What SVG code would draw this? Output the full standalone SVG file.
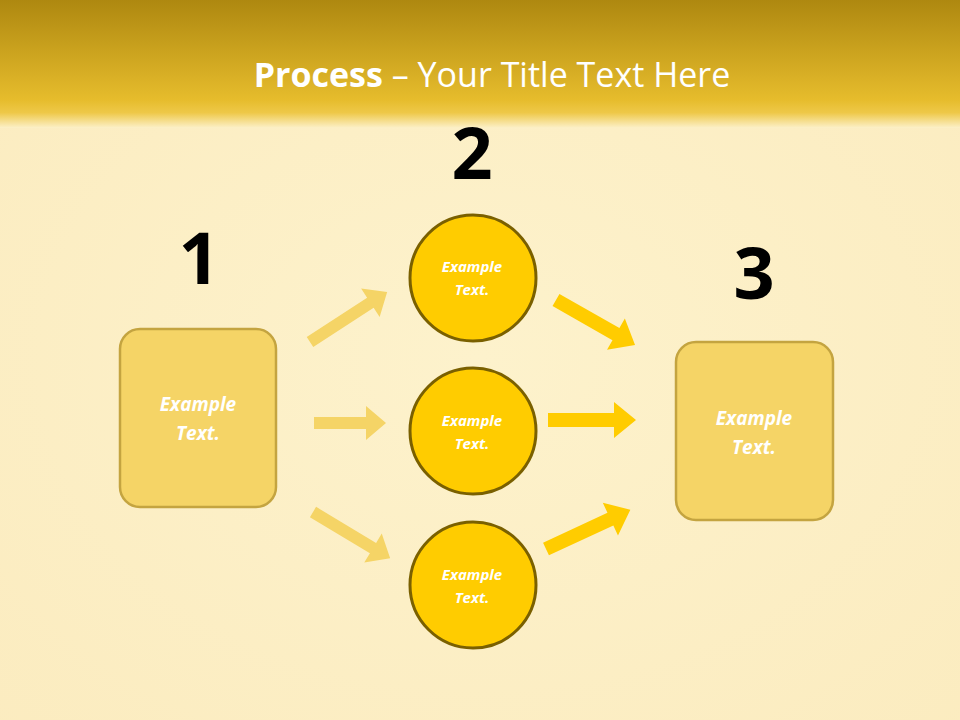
<svg xmlns="http://www.w3.org/2000/svg" width="960" height="720" viewBox="0 0 960 720">
<defs>
<linearGradient id="hdr" x1="0" y1="0" x2="0" y2="1">
<stop offset="0" stop-color="#AE8810"/>
<stop offset="0.78" stop-color="#E6BC2C"/>
<stop offset="0.88" stop-color="#EEC848"/>
<stop offset="1" stop-color="#FCF0C8"/>
</linearGradient>
<radialGradient id="bg" cx="0.5" cy="0.5" r="0.8">
<stop offset="0" stop-color="#FDF2CC"/>
<stop offset="1" stop-color="#FBEBBE"/>
</radialGradient>
<style>
.num{font-family:"Open Sans","Liberation Sans",sans-serif;font-weight:bold;font-size:72px;fill:#000;text-anchor:middle}
.lbl{font-family:"Open Sans","Liberation Sans",sans-serif;font-weight:bold;font-style:italic;fill:#fff;text-anchor:middle}
.c{fill:#FFCC00;stroke:#7A6000;stroke-width:3}
.b{fill:#F5D466;stroke:#C4A440;stroke-width:2.5}
.al{fill:#F5D466}
.ar{fill:#FFCC00}
</style>
</defs>
<rect width="960" height="720" fill="url(#bg)"/>
<rect width="960" height="128" fill="url(#hdr)"/>
<text x="492" y="87" text-anchor="middle" font-family="'Open Sans','Liberation Sans',sans-serif" font-size="34" fill="#fff"><tspan font-weight="bold">Process</tspan> – Your Title Text Here</text>
<g id="connectors">
<path class="al" transform="translate(310,342) rotate(-33)" d="M0,-6 H72 V-17 L92,0 L72,17 V6 H0 Z"/>
<path class="al" transform="translate(314,423)" d="M0,-6 H52 V-17 L72,0 L52,17 V6 H0 Z"/>
<path class="al" transform="translate(313,512) rotate(31)" d="M0,-6 H70 V-17 L90,0 L70,17 V6 H0 Z"/>
<path class="ar" transform="translate(556,300) rotate(29.7)" d="M0,-7 H69 V-18 L91,0 L69,18 V7 H0 Z"/>
<path class="ar" transform="translate(548,420)" d="M0,-7 H66 V-18 L88,0 L66,18 V7 H0 Z"/>
<path class="ar" transform="translate(546,549) rotate(-24.9)" d="M0,-7 H71 V-18 L93,0 L71,18 V7 H0 Z"/>
</g>
<g id="n1"><text class="num" x="199" y="284">1</text><rect class="b" x="120" y="329" width="156" height="178" rx="20"/><text class="lbl" x="198" y="411" font-size="19">Example</text><text class="lbl" x="198" y="440" font-size="19">Text.</text></g>
<g id="n2"><text class="num" x="472" y="179">2</text></g>
<g id="c1"><circle class="c" cx="473" cy="278" r="63"/><text class="lbl" x="472" y="272" font-size="15">Example</text><text class="lbl" x="472" y="295" font-size="15">Text.</text></g>
<g id="c2"><circle class="c" cx="473" cy="431" r="63"/><text class="lbl" x="472" y="426" font-size="15">Example</text><text class="lbl" x="472" y="449" font-size="15">Text.</text></g>
<g id="c3"><circle class="c" cx="473" cy="585" r="63"/><text class="lbl" x="472" y="580" font-size="15">Example</text><text class="lbl" x="472" y="603" font-size="15">Text.</text></g>
<g id="n3"><text class="num" x="754" y="299">3</text><rect class="b" x="676" y="342" width="157" height="178" rx="20"/><text class="lbl" x="754" y="425" font-size="19">Example</text><text class="lbl" x="754" y="454" font-size="19">Text.</text></g>
</svg>
